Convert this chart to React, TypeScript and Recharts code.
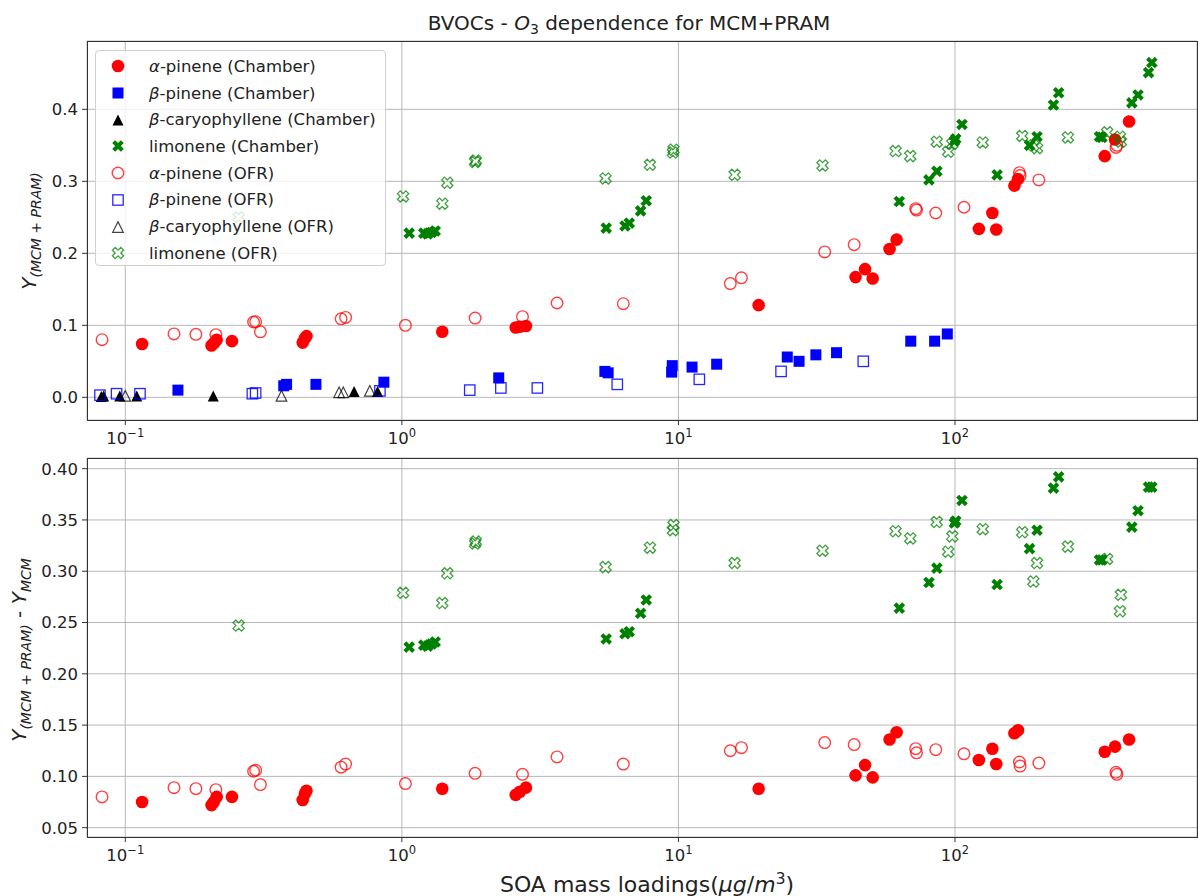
import React from 'react';
import { ScatterChart, Scatter, XAxis, YAxis, CartesianGrid } from 'recharts';

// x axis (log) and tick labels
const xDomain = [0.0727, 750];
const majorXTicks = [0.1, 1, 10, 100];
const majorXExponents = ['−1', '0', '1', '2'];
const minorXTicks = [
  0.08, 0.09, 0.2, 0.3, 0.4, 0.5, 0.6, 0.7, 0.8, 0.9,
  2, 3, 4, 5, 6, 7, 8, 9, 20, 30, 40, 50, 60, 70, 80, 90,
  200, 300, 400, 500, 600, 700,
];
const topYTicks = [0, 0.1, 0.2, 0.3, 0.4];
const bottomYTicks = [0.05, 0.1, 0.15, 0.2, 0.25, 0.3, 0.35, 0.4];

// alpha-pinene (Chamber)
const aPinChamberX = [0.115, 0.205, 0.209, 0.214, 0.243, 0.438, 0.446, 0.452, 1.4, 2.58, 2.67, 2.81, 19.5, 43.7, 47.3, 50.4, 58.0, 61.5, 122, 136.5, 141, 164, 169, 348, 379, 426];
const aPinChamberTop = [0.074, 0.072, 0.075, 0.08, 0.078, 0.076, 0.082, 0.085, 0.091, 0.097, 0.098, 0.099, 0.128, 0.167, 0.178, 0.165, 0.206, 0.219, 0.234, 0.256, 0.233, 0.294, 0.303, 0.335, 0.358, 0.383];
const aPinChamberBottom = [0.075, 0.072, 0.075, 0.08, 0.08, 0.077, 0.083, 0.086, 0.088, 0.082, 0.085, 0.089, 0.088, 0.101, 0.111, 0.099, 0.136, 0.143, 0.116, 0.127, 0.112, 0.142, 0.145, 0.124, 0.129, 0.136];

// beta-pinene (Chamber)
const bPinChamberX = [0.155, 0.374, 0.383, 0.489, 0.861, 2.24, 5.42, 5.57, 9.45, 9.5, 11.2, 13.75, 24.75, 27.3, 31.4, 37.3, 69.2, 84.4, 93.8];
const bPinChamberTop = [0.01, 0.016, 0.018, 0.018, 0.021, 0.027, 0.036, 0.034, 0.035, 0.044, 0.042, 0.046, 0.056, 0.05, 0.059, 0.062, 0.078, 0.078, 0.088];

// beta-caryophyllene (Chamber)
const bCarChamberX = [0.0819, 0.0835, 0.0955, 0.11, 0.208, 0.672, 0.817];
const bCarChamberTop = [0.001, 0.002, 0.002, 0.002, 0.002, 0.008, 0.008];

// limonene (Chamber)
const limChamberX = [1.063, 1.2, 1.24, 1.28, 1.32, 5.48, 6.41, 6.64, 7.3, 7.65, 62.9, 80.5, 86.0, 99.5, 100.6, 106, 142, 186, 198, 227, 237, 333, 340, 436, 459, 501, 515];
const limChamberTop = [0.228, 0.228, 0.227, 0.229, 0.231, 0.235, 0.238, 0.242, 0.259, 0.273, 0.272, 0.302, 0.314, 0.356, 0.359, 0.379, 0.309, 0.35, 0.362, 0.406, 0.423, 0.362, 0.361, 0.409, 0.42, 0.451, 0.465];
const limChamberBottom = [0.226, 0.228, 0.227, 0.229, 0.231, 0.234, 0.239, 0.241, 0.259, 0.272, 0.264, 0.289, 0.303, 0.347, 0.349, 0.369, 0.287, 0.322, 0.34, 0.381, 0.392, 0.311, 0.311, 0.343, 0.359, 0.382, 0.382];

// alpha-pinene (OFR)
const aPinOfrX = [0.0824, 0.15, 0.18, 0.2125, 0.291, 0.296, 0.308, 0.603, 0.626, 1.03, 1.84, 2.73, 3.64, 6.32, 15.4, 16.9, 33.8, 43.2, 72.1, 72.6, 85.2, 107.8, 171, 172, 201, 382, 385];
const aPinOfrTop = [0.08, 0.088, 0.0875, 0.087, 0.1046, 0.105, 0.091, 0.109, 0.111, 0.1, 0.11, 0.112, 0.131, 0.13, 0.158, 0.166, 0.202, 0.212, 0.262, 0.26, 0.256, 0.264, 0.312, 0.308, 0.302, 0.347, 0.35];
const aPinOfrBottom = [0.08, 0.089, 0.088, 0.087, 0.105, 0.106, 0.092, 0.109, 0.112, 0.093, 0.103, 0.102, 0.119, 0.112, 0.125, 0.128, 0.133, 0.131, 0.127, 0.123, 0.126, 0.122, 0.114, 0.11, 0.113, 0.104, 0.102];

// beta-pinene (OFR)
const bPinOfrX = [0.081, 0.093, 0.113, 0.288, 0.296, 0.833, 1.76, 2.28, 3.09, 6.01, 11.9, 23.5, 46.6];
const bPinOfrTop = [0.003, 0.005, 0.005, 0.005, 0.006, 0.009, 0.01, 0.013, 0.013, 0.018, 0.025, 0.036, 0.05];

// beta-caryophyllene (OFR)
const bCarOfrX = [0.1, 0.367, 0.593, 0.614, 0.766];
const bCarOfrTop = [0.002, 0.002, 0.007, 0.007, 0.009];

// limonene (OFR)
const limOfrX = [0.257, 1.01, 1.4, 1.46, 1.84, 1.85, 5.45, 7.89, 9.55, 9.6, 15.97, 33.2, 61.0, 68.9, 85.9, 94.5, 97.8, 126, 175, 192, 198, 256, 355, 395, 398];
const limOfrTop = [0.25, 0.279, 0.269, 0.298, 0.327, 0.329, 0.304, 0.323, 0.34, 0.344, 0.309, 0.322, 0.342, 0.335, 0.355, 0.341, 0.352, 0.354, 0.363, 0.35, 0.346, 0.361, 0.368, 0.362, 0.355];
const limOfrBottom = [0.247, 0.279, 0.269, 0.298, 0.327, 0.329, 0.304, 0.323, 0.34, 0.345, 0.308, 0.32, 0.339, 0.332, 0.348, 0.319, 0.334, 0.341, 0.338, 0.29, 0.308, 0.324, 0.312, 0.261, 0.277];

const W = 1198;
const FONT = "'DejaVu Sans', 'Liberation Sans', sans-serif";
const RED = '#ff0000';
const BLUE = '#0000ff';
const GREEN = '#008000';
const TEXT = '#222';
const SPINE = '#333';

const zip = (xs: number[], ys: number[]) => xs.map((x, i) => ({ x, y: ys[i] }));

const xPoints = (cx: number, cy: number, s: number) =>
  [[-1, -2], [0, -1], [1, -2], [2, -1], [1, 0], [2, 1], [1, 2], [0, 1], [-1, 2], [-2, 1], [-1, 0], [-2, -1]]
    .map(([a, b]) => `${cx + a * s},${cy + b * s}`)
    .join(' ');

const triPoints = (cx: number, cy: number, h: number) =>
  `${cx},${cy - h} ${cx - h},${cy + h} ${cx + h},${cy + h}`;

const drawMarker = (kind: string, cx: number, cy: number) => {
  switch (kind) {
    case 'circleFilled':
      return <circle cx={cx} cy={cy} r={6.3} fill={RED} />;
    case 'circleOpen':
      return <circle cx={cx} cy={cy} r={5.8} fill="none" stroke={RED} strokeOpacity={0.75} strokeWidth={1.4} />;
    case 'squareFilled':
      return <rect x={cx - 5.5} y={cy - 5.5} width={11} height={11} fill={BLUE} />;
    case 'squareOpen':
      return <rect x={cx - 5.2} y={cy - 5.2} width={10.4} height={10.4} fill="none" stroke={BLUE} strokeOpacity={0.85} strokeWidth={1.3} />;
    case 'triFilled':
      return <polygon points={triPoints(cx, cy, 5.5)} fill="#000" />;
    case 'triOpen':
      return <polygon points={triPoints(cx, cy, 5.3)} fill="none" stroke="#000" strokeOpacity={0.75} strokeWidth={1.2} />;
    case 'xFilled':
      return <polygon points={xPoints(cx, cy, 2.9)} fill={GREEN} />;
    case 'xOpen':
      return <polygon points={xPoints(cx, cy, 2.8)} fill="none" stroke={GREEN} strokeOpacity={0.75} strokeWidth={1.3} />;
    default:
      return <g />;
  }
};

const topSeries = [
  { name: 'aPinChamber', kind: 'circleFilled', data: zip(aPinChamberX, aPinChamberTop) },
  { name: 'bPinChamber', kind: 'squareFilled', data: zip(bPinChamberX, bPinChamberTop) },
  { name: 'bCarChamber', kind: 'triFilled', data: zip(bCarChamberX, bCarChamberTop) },
  { name: 'limChamber', kind: 'xFilled', data: zip(limChamberX, limChamberTop) },
  { name: 'aPinOfr', kind: 'circleOpen', data: zip(aPinOfrX, aPinOfrTop) },
  { name: 'bPinOfr', kind: 'squareOpen', data: zip(bPinOfrX, bPinOfrTop) },
  { name: 'bCarOfr', kind: 'triOpen', data: zip(bCarOfrX, bCarOfrTop) },
  { name: 'limOfr', kind: 'xOpen', data: zip(limOfrX, limOfrTop) },
];

const bottomSeries = [
  { name: 'aPinChamber', kind: 'circleFilled', data: zip(aPinChamberX, aPinChamberBottom) },
  { name: 'limChamber', kind: 'xFilled', data: zip(limChamberX, limChamberBottom) },
  { name: 'aPinOfr', kind: 'circleOpen', data: zip(aPinOfrX, aPinOfrBottom) },
  { name: 'limOfr', kind: 'xOpen', data: zip(limOfrX, limOfrBottom) },
];

const legendItems = [
  { kind: 'circleFilled', greek: 'α', label: '-pinene (Chamber)' },
  { kind: 'squareFilled', greek: 'β', label: '-pinene (Chamber)' },
  { kind: 'triFilled', greek: 'β', label: '-caryophyllene (Chamber)' },
  { kind: 'xFilled', greek: '', label: 'limonene (Chamber)' },
  { kind: 'circleOpen', greek: 'α', label: '-pinene (OFR)' },
  { kind: 'squareOpen', greek: 'β', label: '-pinene (OFR)' },
  { kind: 'triOpen', greek: 'β', label: '-caryophyllene (OFR)' },
  { kind: 'xOpen', greek: '', label: 'limonene (OFR)' },
];

const PowerTick = (props: any) => {
  const { x, y, payload } = props;
  const i = majorXTicks.indexOf(payload.value);
  if (i < 0) return <g />;
  return (
    <text x={x} y={y} dy={17} textAnchor="middle" fill={TEXT} fontSize={16.5} fontFamily={FONT}>
      <tspan>10</tspan>
      <tspan dy={-7} fontSize={11.5}>{majorXExponents[i]}</tspan>
    </text>
  );
};

interface PanelProps {
  top: number;
  height: number;
  plotTop: number;
  plotBottom: number;
  yDomain: number[];
  yTicks: number[];
  digits: number;
  series: { name: string; kind: string; data: { x: number; y: number }[] }[];
}

const PLOT_LEFT = 87;
const PLOT_RIGHT = 1197;

const Panel = ({ top, height, plotTop, plotBottom, yDomain, yTicks, digits, series }: PanelProps) => (
  <div style={{ position: 'absolute', left: 0, top, width: W, height }}>
    <ScatterChart width={W} height={height} margin={{ top: plotTop, right: W - PLOT_RIGHT, bottom: 0, left: 0 }}>
      <CartesianGrid xAxisId="major" stroke="#b0b0b0" strokeWidth={0.9} />
      <XAxis
        xAxisId="minor"
        type="number"
        dataKey="x"
        scale="log"
        domain={xDomain}
        allowDataOverflow
        ticks={minorXTicks}
        interval={0}
        height={0}
        axisLine={false}
        tick={false}
        tickSize={3.5}
        tickLine={{ stroke: SPINE }}
      />
      <XAxis
        xAxisId="major"
        type="number"
        dataKey="x"
        scale="log"
        domain={xDomain}
        allowDataOverflow
        ticks={majorXTicks}
        interval={0}
        height={height - plotBottom}
        axisLine={false}
        tick={<PowerTick />}
        tickSize={5}
        tickLine={{ stroke: SPINE }}
      />
      <YAxis
        type="number"
        dataKey="y"
        domain={yDomain}
        allowDataOverflow
        ticks={yTicks}
        interval={0}
        width={PLOT_LEFT}
        axisLine={false}
        tickSize={5}
        tickMargin={4}
        tickLine={{ stroke: SPINE }}
        tick={{ fill: TEXT, fontSize: 16.5, fontFamily: FONT }}
        tickFormatter={(v: number) => v.toFixed(digits)}
      />
      {series.map((s) => (
        <Scatter
          key={s.name}
          xAxisId="major"
          data={s.data}
          isAnimationActive={false}
          shape={(p: any) => drawMarker(s.kind, p.cx, p.cy)}
        />
      ))}
    </ScatterChart>
    <div
      style={{
        position: 'absolute',
        left: PLOT_LEFT - 0.5,
        top: plotTop - 0.5,
        width: PLOT_RIGHT - PLOT_LEFT + 1,
        height: plotBottom - plotTop + 1,
        border: `1px solid ${SPINE}`,
        boxSizing: 'border-box',
        pointerEvents: 'none',
      }}
    />
  </div>
);

const sub = { fontSize: '0.7em', verticalAlign: '-0.3em', fontStyle: 'italic' as const };

const App = () => (
  <div style={{ position: 'absolute', left: 0, top: 0, width: W, height: 896, background: '#fff', fontFamily: FONT, color: TEXT, overflow: 'hidden' }}>
    <Panel top={0} height={456} plotTop={41} plotBottom={420} yDomain={[-0.0315, 0.4949]} yTicks={topYTicks} digits={1} series={topSeries} />
    <Panel top={440} height={456} plotTop={18} plotBottom={397} yDomain={[0.0409, 0.4104]} yTicks={bottomYTicks} digits={2} series={bottomSeries} />

    <div style={{ position: 'absolute', left: 629, top: 11, transform: 'translateX(-50%)', fontSize: 20, whiteSpace: 'nowrap' }}>
      BVOCs - <i>O</i>
      <span style={{ fontSize: '0.7em', verticalAlign: '-0.25em' }}>3</span> dependence for MCM+PRAM
    </div>

    <div style={{ position: 'absolute', left: 31, top: 231, transform: 'translate(-50%, -50%) rotate(-90deg)', fontSize: 20, whiteSpace: 'nowrap', lineHeight: 1 }}>
      <i>Y</i>
      <span style={sub}>(MCM + PRAM)</span>
    </div>
    <div style={{ position: 'absolute', left: 21, top: 650, transform: 'translate(-50%, -50%) rotate(-90deg)', fontSize: 20, whiteSpace: 'nowrap', lineHeight: 1 }}>
      <i>Y</i>
      <span style={sub}>(MCM + PRAM)</span> - <i>Y</i>
      <span style={sub}>MCM</span>
    </div>

    <div style={{ position: 'absolute', left: 647, top: 870, transform: 'translateX(-50%)', fontSize: 22, whiteSpace: 'nowrap' }}>
      SOA mass loadings(<i>μg</i>/<i>m</i>
      <span style={{ fontSize: '0.7em', verticalAlign: '0.5em' }}>3</span>)
    </div>

    <div
      style={{
        position: 'absolute',
        left: 95,
        top: 50,
        width: 291,
        height: 216,
        background: 'rgba(255,255,255,0.8)',
        border: '1px solid #d0d0d0',
        borderRadius: 4,
        boxSizing: 'border-box',
      }}
    >
      {legendItems.map((item, i) => (
        <div
          key={i}
          style={{ position: 'absolute', left: 0, top: 2 + i * 26.7, height: 26.7, display: 'flex', alignItems: 'center', whiteSpace: 'nowrap' }}
        >
          <svg width={46} height={20} style={{ marginLeft: 0 }}>
            {drawMarker(item.kind, 22, 10)}
          </svg>
          <span style={{ marginLeft: 7, fontSize: 16.5 }}>
            {item.greek && <i>{item.greek}</i>}
            {item.label}
          </span>
        </div>
      ))}
    </div>
  </div>
);

export default App;
